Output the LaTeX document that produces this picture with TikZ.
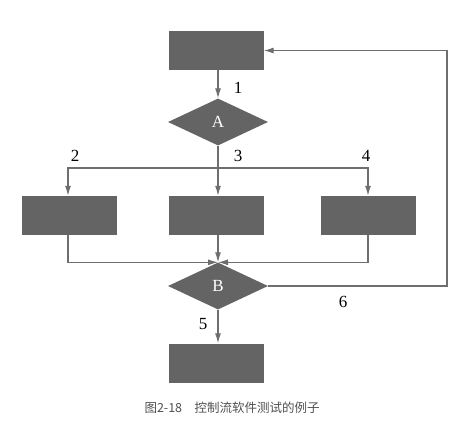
\documentclass[tikz,border=0pt]{standalone}
\usepackage{fontspec}
\setmainfont{Liberation Serif}
\newfontfamily\cjk{Noto Sans CJK SC}
\usetikzlibrary{arrows.meta, shapes.geometric}
\definecolor{boxgray}{HTML}{646464}
\definecolor{linegray}{HTML}{6E6E6E}
\definecolor{capgray}{HTML}{505050}

\begin{document}
\begin{tikzpicture}[
			x=1pt, y=-1pt,
			block/.style={rectangle, fill=boxgray, minimum width=95pt, minimum height=39pt, inner sep=0pt},
			decision/.style={diamond, fill=boxgray, minimum width=100pt, minimum height=47pt, inner sep=0pt,
				text=white, font=\fontsize{17}{17}\selectfont},
			num/.style={font=\fontsize{17}{17}\selectfont},
			flow/.style={draw=linegray, line width=1.2pt, -{Latex[length=10pt,width=6pt]}},
			>=latex
			]
			\useasboundingbox (0,0) rectangle (454,421);
			
			\node[block] (Start) at (216,50.5) {};
			\node[decision] (A) at (218,122) {A};
			
			\node[block] (Left) at (69,215.5) {};
			\node[block] (Mid) at (216,215.5) {};
			\node[block] (Right) at (368,215.5) {};
			
			\node[decision] (B) at (218,286) {B};
			\node[block] (End) at (216,363) {};
			
			\coordinate (Fork) at (218,168);
			\coordinate (Loop) at (447,286);
			
			\draw[flow] (Start.south -| A.north) -- (A.north);
			\draw[flow] (A.south) -- (A.south |- Mid.north);
			\draw[flow] (Fork) -| (Left.north -| 68,0);
			\draw[flow] (Fork) -| (Right.north);
			
			\draw[flow] (Left.south -| 68,0) |- (B.north);
			\draw[flow] (Right.south) |- (B.north);
			\draw[flow] (Mid.south -| B.north) -- (B.north);
			
			\draw[flow] (B.south) -- (B.south |- End.north);
			\draw[flow] (B.east) -- (Loop) |- (Start.east);
			
			\node[num] (L1) at (238,88) {1};
			\node[num] (L2) at (75,156) {2};
			\node[num] (L3) at (238,156) {3};
			\node[num] (L4) at (366,156) {4};
			\node[num] (L5) at (203,324) {5};
			\node[num] (L6) at (343,302) {6};
			
			\node[anchor=west, text=capgray, font=\cjk\fontsize{12.5}{12.5}\selectfont] (Caption) at (141,408)
			{图2-18\hspace{1em}控制流软件测试的例子};
		\end{tikzpicture}
\end{document}
